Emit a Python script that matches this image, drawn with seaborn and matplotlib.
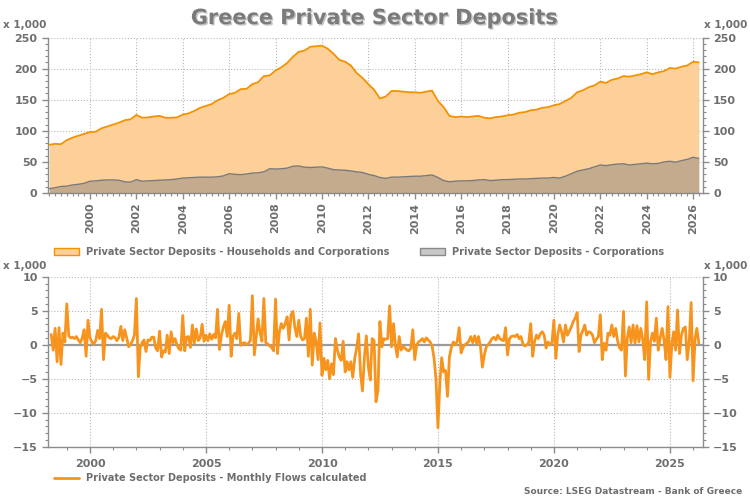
import numpy as np
import pandas as pd
import seaborn as sns
import matplotlib.pyplot as plt
import matplotlib.dates as mdates
import matplotlib.ticker as mticker
import matplotlib.patheffects as pe
from matplotlib.patches import Patch
from matplotlib.lines import Line2D

sns.set_theme(style="white")
plt.rcParams["font.family"] = ["DejaVu Sans"]
plt.rcParams["font.weight"] = "bold"

# quarter-end levels (x 1,000), first value 1998-03-31
hh_corp = [77.6, 79, 78.5,
           85, 89, 92, 95,
           98, 98.5, 104, 107,
           110, 113, 117, 118.5,
           125.5, 121, 121.5, 123,
           124, 121, 121, 121.5,
           126, 128, 132, 137,
           140, 143, 149, 153,
           159, 161, 167, 167.5,
           175, 178, 188, 189,
           197, 202, 209, 219,
           227, 229, 235, 236,
           237, 232, 224, 214,
           211, 205, 193, 185,
           175, 166, 152, 155,
           164, 164, 163, 162,
           162, 161, 163, 164.5,
           148, 138, 124, 122,
           123, 122, 123, 124,
           121, 120, 122, 123,
           125, 126, 129, 130,
           133, 134, 137, 138,
           141, 143, 148, 153,
           162, 165, 170, 173,
           179, 177, 182, 184,
           188, 187, 189, 191,
           194, 191, 194, 196,
           201, 200, 203, 205,
           211, 210]

corporations = [7, 8.5, 10.5,
                11, 13, 14, 15.5,
                19, 19.5, 20.5, 21,
                21, 20.5, 18, 17.5,
                21.5, 19, 19.5, 20,
                20.5, 21, 21.5, 22.5,
                24, 24.5, 25, 25.5,
                25.5, 25.5, 26, 27.5,
                31, 30, 29.5, 30.5,
                32, 32.5, 34, 39,
                38.5, 39, 40, 43,
                43.5, 41.5, 41, 41.5,
                42, 40, 37.5, 37,
                36.5, 35.5, 34, 33,
                30, 28, 25, 23.5,
                25.5, 25.5, 26, 26.5,
                27, 27, 28, 29,
                25, 20, 18, 19,
                19.5, 19.5, 20, 21,
                21.5, 20, 20.5, 21.5,
                21.5, 22, 22.5, 22.5,
                23, 23.5, 24, 24,
                25, 24, 27, 31,
                35, 37, 39, 42,
                45, 44, 45.5, 46.5,
                47, 45, 46, 47,
                48, 47, 47.5, 50,
                51, 49.5, 52, 54,
                57.5, 55.5]

# monthly flows (x 1,000), first value 1998-04-30
monthly_flows = [1.5, -0.8, 2.4, -2.5, 2.5, -2.9, 1.7, 0.4,
                 6.0, 1.3, 1.0, 1.1, 0.9, 1.2, 0.7, 0.3, 1.0, 2.2, -1.7, 3.6,
                 1.0, 0.4, 0.1, 0.6, 2.1, 0.9, 5.2, -2.2, 1.7, 1.4, 1.0, 0.9,
                 1.2, 1.0, 0.6, 1.1, 2.7, 0.6, 2.2, 1.0, -0.3, 0.0, 0.6, 1.4,
                 6.8, -4.7, -0.5, 0.3, 0.7, -1.0, 0.7, 0.6, 1.1, 1.1, -0.5, -0.9,
                 2.0, -1.8, -0.9, -1.1, 1.4, -1.3, 1.9, 0.3, 0.9, 0.0, -0.6, -0.8,
                 4.3, -0.9, 1.1, 1.2, -0.4, 2.9, 0.2, 2.3, 0.6, 1.0, 3.0, 0.5,
                 1.4, 0.6, 1.6, 0.8, 1.5, 1.0, 5.2, -0.7, 1.4, 2.6, 3.4, 1.2,
                 5.8, -1.7, 1.2, 1.7, 0.9, 4.6, -0.1, 0.2, 0.3, 0.0, 0.2, 0.6,
                 7.2, -1.5, 1.0, 3.8, 1.8, 0.5, 6.8, 0.3, 0.1, -0.2, -0.4, -0.9,
                 6.7, -1.3, 1.9, 3.1, 2.4, 3.1, 4.1, 0.7, 4.4, 4.9, 2.5, 1.2,
                 3.6, 1.2, 0.7, 0.9, 3.9, -1.7, 5.2, -3.0, 1.7, 0.5, -2.2, 3.2,
                 -4.5, -2.0, -3.7, -2.3, -5.0, -2.8, -4.4, 0.9, -0.8, -1.8, -2.3, 0.5,
                 -4.0, -2.5, -3.7, -2.5, -4.8, -2.0, -0.5, 1.6, -4.3, -6.8, -1.8, 1.3,
                 -3.2, -5.2, 0.9, 0.6, -8.4, -6.7, 3.4, -0.3, 0.9, 0.8, 0.9, 5.7,
                 -0.3, 3.1, 0.0, -1.8, 1.2, -0.8, -0.3, -0.5, -0.8, -0.9, -0.5, 2.2,
                 -2.2, 0.0, 0.4, 0.6, 0.9, 0.4, 1.0, 0.7, 0.4, -0.2, -2.0, -5.0,
                 -12.2, -5.5, -1.9, -4.0, -3.8, -7.6, -1.8, -0.4, 0.4, 0.0, 0.5, 2.5,
                 -1.2, -0.4, 0.0, 0.2, 0.5, 1.2, 0.3, 1.3, 0.2, 1.2, -0.3, -3.3,
                 -1.5, -0.3, 0.0, 0.4, 0.9, 1.1, 0.7, 1.4, 0.9, 0.7, 0.6, 2.5,
                 -1.5, 0.9, 1.2, 1.3, 1.2, 1.5, 0.9, 1.2, 0.1, -0.2, 0.0, 0.3,
                 3.1, -1.7, 0.4, 1.4, 0.9, 1.6, 1.9, 1.4, -0.5, 0.4, 0.0, 0.3,
                 3.6, -2.0, 1.4, 2.9, 1.9, 0.4, 2.9, 1.4, 2.0, 2.6, 3.4, 3.9,
                 4.7, -1.0, 1.4, 2.1, 2.9, 1.4, 1.9, 1.8, 1.4, 0.3, 0.8, 1.2,
                 4.4, -2.2, 0.2, -0.8, 1.7, 1.4, 2.9, 1.2, 2.4, 0.5, -0.5, -0.8,
                 4.9, -4.6, 0.9, 2.6, 0.3, 2.9, 0.2, 2.8, 0.4, 2.4, 0.7, -2.2,
                 6.3, -5.1, 0.4, 1.7, 0.5, 3.9, -0.8, 1.0, 2.4, 0.7, -2.2, 5.6,
                 -4.8, 0.2, 1.9, -0.8, 5.1, -1.3, 1.4, 2.4, 2.6, -2.2, 0.5, 6.2,
                 -5.3, 0.9, 2.4, 0.2]

labels = ["Private Sector Deposits - Households and Corporations",
          "Private Sector Deposits - Corporations",
          "Private Sector Deposits - Monthly Flows calculated"]

q_dates = pd.date_range("1998-03-31", periods=len(hh_corp), freq="QE")
m_dates = pd.date_range("1998-04-30", periods=len(monthly_flows), freq="ME")

ORANGE = "#F39200"
FILL = "#FDD09A"
GREY_TXT = "#6e6e6e"
SPINE = "#8c8c8c"

fig = plt.figure(figsize=(7.5, 5), dpi=100)
ax1 = fig.add_axes([0.064, 0.614, 0.873, 0.311])
ax2 = fig.add_axes([0.064, 0.1066, 0.873, 0.34])

# top panel: stacked-look areas
ax1.fill_between(q_dates, hh_corp, color=FILL, lw=0, zorder=2)
sns.lineplot(x=q_dates, y=hh_corp, ax=ax1, color=ORANGE, lw=1.3, zorder=3)
ax1.fill_between(q_dates, corporations, color="#808080", alpha=0.45, lw=0, zorder=4)
sns.lineplot(x=q_dates, y=corporations, ax=ax1, color="#7a7a7a", lw=1.0, zorder=5)

# bottom panel: flows
ax2.axhline(0, color="#9c9c9c", lw=1.6, zorder=2)
sns.lineplot(x=m_dates, y=monthly_flows, ax=ax2, color="#F7941D", lw=2.0, zorder=3)

xmin, xmax = pd.Timestamp("1998-03-10"), pd.Timestamp("2026-06-01")
for ax in (ax1, ax2):
    ax.set_xlim(xmin, xmax)
    ax.set_xlabel("")
    ax.set_ylabel("")
    ax.grid(True, which="major", ls=":", color="#b8b8b8", lw=0.8)
    ax.set_axisbelow(True)
    ax.spines["top"].set_visible(False)
    for s in ("left", "right", "bottom"):
        ax.spines[s].set_color(SPINE)
        ax.spines[s].set_linewidth(1.0)
    ax.tick_params(which="both", direction="out", colors=SPINE, labelcolor=GREY_TXT,
                   labelsize=8, left=True, right=True, bottom=True,
                   labelleft=True, labelright=True)
    ax.tick_params(which="major", length=4, width=1)
    ax.tick_params(which="minor", length=2, width=0.8)

ax1.set_ylim(0, 250)
ax1.yaxis.set_major_locator(mticker.MultipleLocator(50))
ax1.yaxis.set_minor_locator(mticker.MultipleLocator(10))
ax1.xaxis.set_major_locator(mdates.YearLocator(2))
ax1.xaxis.set_minor_locator(mdates.MonthLocator(bymonth=[1, 4, 7, 10]))
ax1.xaxis.set_major_formatter(mdates.DateFormatter("%Y"))
ax1.tick_params(axis="x", labelrotation=90, pad=3)

ax2.set_ylim(-15, 10)
ax2.yaxis.set_major_locator(mticker.MultipleLocator(5))
ax2.yaxis.set_minor_locator(mticker.MultipleLocator(1))
ax2.xaxis.set_major_locator(mdates.YearLocator(5))
ax2.xaxis.set_minor_locator(mdates.YearLocator(1))
ax2.xaxis.set_major_formatter(mdates.DateFormatter("%Y"))
ax2.tick_params(axis="x", pad=5)

# titles and unit labels
fig.text(0.5, 0.964, "Greece Private Sector Deposits", ha="center", va="center",
         fontsize=15, fontweight="bold", color="#7b7b7b",
         path_effects=[pe.withSimplePatchShadow(offset=(1, -1), shadow_rgbFace="#bdbdbd", alpha=0.9)])
for y in (0.95, 0.468):
    fig.text(0.004, y, "x 1,000", ha="left", va="center", fontsize=7.5, color=GREY_TXT)
    fig.text(0.997, y, "x 1,000", ha="right", va="center", fontsize=7.5, color=GREY_TXT)

leg_kw = dict(loc="center left", frameon=False, borderpad=0, borderaxespad=0,
              handlelength=2.6, handletextpad=0.7, prop={"size": 7, "weight": "bold"},
              labelcolor=GREY_TXT)
fig.legend(handles=[Patch(facecolor=FILL, edgecolor=ORANGE, lw=1)], labels=[labels[0]],
           bbox_to_anchor=(0.072, 0.496), **leg_kw)
fig.legend(handles=[Patch(facecolor="#c8c8c8", edgecolor="#8a8a8a", lw=1)], labels=[labels[1]],
           bbox_to_anchor=(0.56, 0.496), **leg_kw)
fig.legend(handles=[Line2D([], [], color="#F7941D", lw=2)], labels=[labels[2]],
           bbox_to_anchor=(0.072, 0.044), **leg_kw)

fig.text(0.99, 0.016, "Source: LSEG Datastream - Bank of Greece", ha="right", va="center",
         fontsize=6.5, color=GREY_TXT)

fig.savefig("out.png", dpi=100)
